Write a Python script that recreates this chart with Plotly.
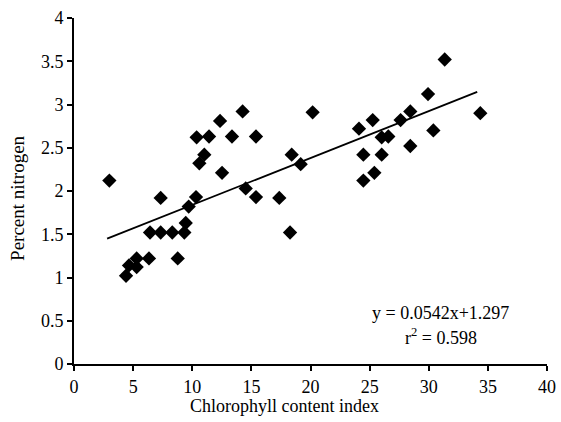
import plotly.graph_objects as go

chl = [2.99, 4.40, 4.65, 5.30, 5.30, 6.34, 6.43, 7.33, 8.31, 8.77, 9.33, 9.45, 9.70, 10.32,
       7.33, 14.52, 15.39, 17.36, 18.27, 10.37, 11.42, 12.35, 13.36, 14.26, 15.39, 11.02,
       10.60, 12.52, 18.41, 19.17, 20.18, 24.10, 25.26, 26.02, 26.58, 24.47, 26.02, 25.40,
       24.47, 27.62, 28.44, 28.44, 29.94, 30.39, 31.35, 34.36]
nit = [2.12, 1.02, 1.14, 1.22, 1.12, 1.22, 1.52, 1.52, 1.52, 1.22, 1.52, 1.63, 1.82, 1.93,
       1.92, 2.03, 1.93, 1.92, 1.52, 2.62, 2.63, 2.81, 2.63, 2.92, 2.63, 2.42,
       2.32, 2.21, 2.42, 2.31, 2.91, 2.72, 2.82, 2.62, 2.63, 2.42, 2.42, 2.21,
       2.12, 2.82, 2.92, 2.52, 3.12, 2.70, 3.52, 2.90]

slope, intercept = 0.0542, 1.297
line_x = [2.8, 34.1]
line_y = [slope * v + intercept for v in line_x]

x_ticks = [0, 5, 10, 15, 20, 25, 30, 35, 40]
y_ticks = [0, 0.5, 1, 1.5, 2, 2.5, 3, 3.5, 4]
y_tick_labels = ["0", "0.5", "1", "1.5", "2", "2.5", "3", "3.5", "4"]

font = "Liberation Serif, Times New Roman, serif"

fig = go.Figure()
fig.add_trace(go.Scatter(x=line_x, y=line_y, mode="lines",
                         line=dict(color="black", width=1.8), showlegend=False))
fig.add_trace(go.Scatter(x=chl, y=nit, mode="markers",
                         marker=dict(symbol="diamond", size=11, color="black"),
                         showlegend=False))

fig.add_annotation(x=31.0, y=0.59, text="y = 0.0542x+1.297", showarrow=False,
                   font=dict(family=font, size=18, color="black"))
fig.add_annotation(x=31.0, y=0.32, text="r<sup>2</sup> = 0.598", showarrow=False,
                   font=dict(family=font, size=18, color="black"))

# axis titles
fig.add_annotation(xref="paper", yref="paper", x=0.444, y=0, yshift=-42,
                   xanchor="center", yanchor="middle", showarrow=False,
                   text="Chlorophyll content index",
                   font=dict(family=font, size=18, color="black"))
fig.add_annotation(xref="paper", yref="paper", x=0, xshift=-56, y=0.48,
                   xanchor="center", yanchor="middle", showarrow=False, textangle=-90,
                   text="Percent nitrogen",
                   font=dict(family=font, size=19, color="black"))

fig.update_layout(
    width=561, height=422,
    margin=dict(l=74, r=14, t=18, b=58),
    paper_bgcolor="white", plot_bgcolor="white",
    font=dict(family=font, size=18, color="black"),
    xaxis=dict(range=[0, 40], tickvals=x_ticks, ticks="outside", ticklen=5, tickwidth=1.5,
               tickcolor="black", showline=True, linecolor="black", linewidth=2,
               showgrid=False, zeroline=False, automargin=False,
               tickfont=dict(size=18)),
    yaxis=dict(range=[0, 4], tickvals=y_ticks, ticktext=y_tick_labels, ticks="outside",
               ticklen=5, tickwidth=1.5, tickcolor="black", showline=True, linecolor="black",
               linewidth=2, showgrid=False, zeroline=False, automargin=False,
               tickfont=dict(size=18)),
)

fig.write_html("out.html", config={"displayModeBar": False},
               post_script="document.body.style.margin='0px';document.body.style.overflow='hidden';")
